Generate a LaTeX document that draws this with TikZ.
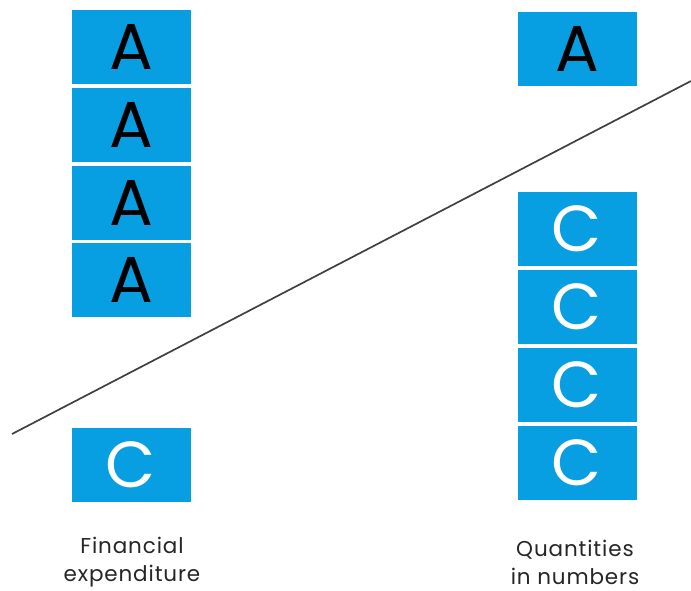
\documentclass[tikz,border=0pt]{standalone}
\usepackage{fontspec}
\setmainfont{Poppins}
\newfontfamily\capfont[LetterSpace=4]{Poppins}
\usetikzlibrary{positioning}
\definecolor{tileblue}{RGB}{8,158,226}
\tikzset{
  tile/.style={fill=tileblue,minimum width=119pt,minimum height=74pt,inner sep=0pt,
               font=\fontsize{65}{65}\selectfont},
  atile/.style={tile,text=black},
  ctile/.style={tile,text=white},
  caption/.style={align=center,inner sep=0pt,font=\capfont\fontsize{21.5}{28}\selectfont,text=black!85}
}
\begin{document}
\begin{tikzpicture}[x=1pt,y=-1pt]
        % page frame
        \useasboundingbox (0,0) rectangle (691,590);

        % the tilted balance line
        \coordinate (lineL) at (12,434);
        \coordinate (lineR) at (691,81);
        \draw[black!75,line width=1.7pt] (lineL) -- (lineR);

        % left column: four A on top, one C below
        \foreach \i/\y in {1/47, 2/125, 3/203, 4/280} {
                \node[atile] (leftA\i) at (131,\y) {A};
        }
        \node[ctile] (leftC) at (131,465) {C};

        % right column: one A on top, four C below
        \node[atile] (rightA) at (577,49) {A};
        \foreach \i/\y in {1/229, 2/307, 3/385, 4/463} {
                \node[ctile] (rightC\i) at (577,\y) {C};
        }

        % captions
        \node[caption] (leftcap) at (132,562) {Financial\\expenditure};
        \node[caption] (rightcap) at (575,562) {Quantities\\in numbers};
\end{tikzpicture}
\end{document}
